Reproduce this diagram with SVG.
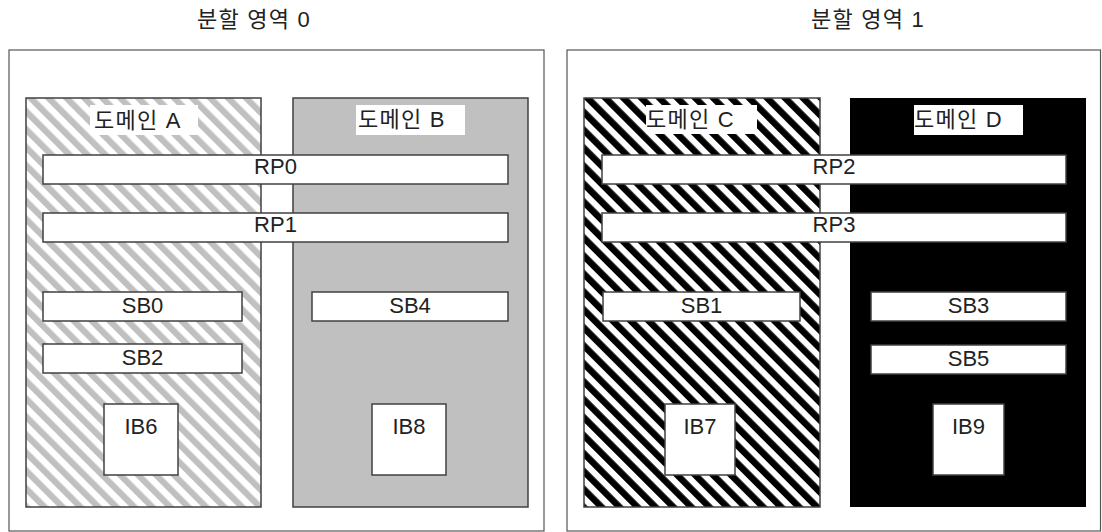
<svg xmlns="http://www.w3.org/2000/svg" width="1102" height="532" viewBox="0 0 1102 532">
<style>
.part{fill:#fff;stroke:#555;stroke-width:1.2}
.dom{stroke:#404040;stroke-width:1.5}
.box{fill:#fff;stroke:#404040;stroke-width:1.5}
.lblbg{fill:#fff}
text{font-family:"Liberation Sans","Noto Sans CJK KR",sans-serif;fill:#222}
.t{font-size:22px;text-anchor:middle}
.ko{font-size:22px;letter-spacing:1.2px}
</style>
<defs>
<pattern id="hatchA" patternUnits="userSpaceOnUse" width="12.7" height="12.7" patternTransform="rotate(-45)">
<rect width="12.7" height="12.7" fill="#fff"/>
<rect width="6.3" height="12.7" fill="#c0c0c0"/>
</pattern>
<pattern id="hatchC" patternUnits="userSpaceOnUse" width="12.7" height="12.7" patternTransform="rotate(-45)">
<rect width="12.7" height="12.7" fill="#fff"/>
<rect width="6.6" height="12.7" fill="#000"/>
</pattern>
</defs>
<rect width="1102" height="532" fill="#fff"/>
<g id="partition0">
<rect class="part" x="9" y="50" width="535" height="481"/>
<text class="ko" x="197" y="27">분할 영역 0</text>
</g>
<g id="partition1">
<rect class="part" x="567" y="50" width="533.5" height="481"/>
<text class="ko" x="811" y="27">분할 영역 1</text>
</g>
<g id="domainA">
<rect class="dom" x="26" y="98" width="235" height="409" fill="url(#hatchA)"/>
<rect class="lblbg" x="90" y="105" width="108" height="30"/>
<text class="ko" x="94" y="128">도메인 A</text>
</g>
<g id="domainB">
<rect class="dom" x="293" y="98" width="235" height="409" fill="#c0c0c0"/>
<rect class="lblbg" x="356" y="105" width="109" height="30"/>
<text class="ko" x="358" y="127">도메인 B</text>
</g>
<g id="domainC">
<rect class="dom" x="584" y="98" width="236" height="409" fill="url(#hatchC)" stroke="#000"/>
<rect class="lblbg" x="646" y="105" width="111" height="29"/>
<text class="ko" x="646" y="127">도메인 C</text>
</g>
<g id="domainD">
<rect x="850" y="98" width="236" height="409" fill="#000"/>
<rect class="lblbg" x="914" y="105" width="109" height="30"/>
<text class="ko" x="914" y="127">도메인 D</text>
</g>
<g id="RP0"><rect class="box" x="43" y="155" width="465" height="29"/><text class="t" x="275.5" y="173.5">RP0</text></g>
<g id="RP1"><rect class="box" x="43" y="213" width="465" height="29"/><text class="t" x="275.5" y="231.5">RP1</text></g>
<g id="RP2"><rect class="box" x="602" y="155" width="464" height="29"/><text class="t" x="834" y="173.5">RP2</text></g>
<g id="RP3"><rect class="box" x="602" y="213" width="464" height="29"/><text class="t" x="834" y="231.5">RP3</text></g>
<g id="SB0"><rect class="box" x="43" y="292" width="199" height="29"/><text class="t" x="142.5" y="312.5">SB0</text></g>
<g id="SB2"><rect class="box" x="43" y="344" width="199" height="29"/><text class="t" x="142.5" y="364.5">SB2</text></g>
<g id="SB4"><rect class="box" x="312" y="292" width="196" height="29"/><text class="t" x="410" y="312.5">SB4</text></g>
<g id="SB1"><rect class="box" x="603" y="292" width="197" height="29"/><text class="t" x="701.5" y="312.5">SB1</text></g>
<g id="SB3"><rect class="box" x="871" y="292" width="195" height="29"/><text class="t" x="968.5" y="312.5">SB3</text></g>
<g id="SB5"><rect class="box" x="871" y="345" width="195" height="29"/><text class="t" x="968.5" y="365.5">SB5</text></g>
<g id="IB6"><rect class="box" x="104" y="404" width="74" height="71"/><text class="t" x="141" y="433.5">IB6</text></g>
<g id="IB8"><rect class="box" x="372" y="404" width="74" height="71"/><text class="t" x="409" y="433.5">IB8</text></g>
<g id="IB7"><rect class="box" x="665" y="404" width="70" height="71"/><text class="t" x="700" y="433.5">IB7</text></g>
<g id="IB9"><rect class="box" x="933" y="404" width="71" height="71"/><text class="t" x="968.5" y="433.5">IB9</text></g>
<g id="connectors"/>
</svg>
